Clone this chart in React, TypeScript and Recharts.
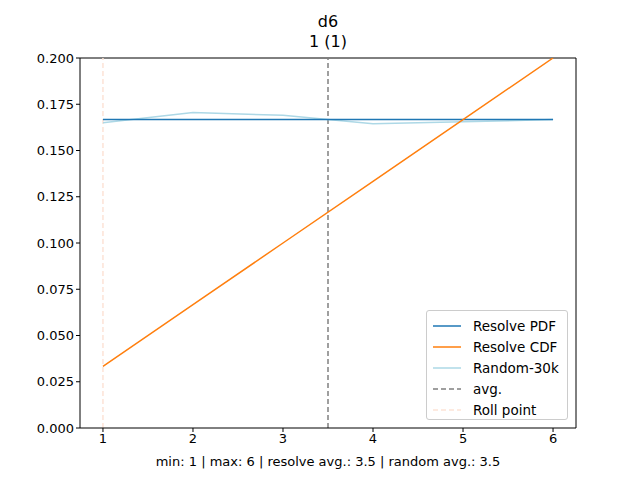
import { LineChart, Line, XAxis, YAxis, ReferenceLine } from 'recharts';

const faces = [1, 2, 3, 4, 5, 6];
const pdf = [0.1667, 0.1667, 0.1667, 0.1667, 0.1667, 0.1667];
const cdf = [0.0333, 0.0667, 0.1, 0.1333, 0.1667, 0.2];
const random30k = [0.165, 0.1705, 0.169, 0.1645, 0.1655, 0.1667];
const yTicks = [0, 0.025, 0.05, 0.075, 0.1, 0.125, 0.15, 0.175, 0.2];

const data = faces.map((x, i) => ({ x, pdf: pdf[i], cdf: cdf[i], rnd: random30k[i] }));

const font = 'DejaVu Sans, sans-serif';

const legendItems = [
  { label: 'Resolve PDF', color: '#1f77b4', dash: undefined },
  { label: 'Resolve CDF', color: '#ff7f0e', dash: undefined },
  { label: 'Random-30k', color: '#add8e6', dash: undefined },
  { label: 'avg.', color: '#808080', dash: '5 3' },
  { label: 'Roll point', color: '#fde3d6', dash: '5 3' },
];

export default function App() {
  return (
    <div style={{ position: 'absolute', left: 0, top: 0, width: 640, height: 480, fontFamily: font, background: '#fff' }}>
      <div style={{ position: 'absolute', top: 12, width: 656, textAlign: 'center', fontSize: 16, lineHeight: '20px' }}>
        d6<br />1 (1)
      </div>
      <LineChart width={640} height={480} data={data} margin={{ top: 58, right: 64, bottom: 22, left: 20 }}>
        <XAxis
          dataKey="x"
          type="number"
          domain={[0.745, 6.255]}
          ticks={faces}
          height={30}
          stroke="#000"
          tick={{ fill: '#000', fontSize: 13, fontFamily: font }}
          tickSize={4}
        />
        <YAxis
          type="number"
          domain={[0, 0.2]}
          ticks={yTicks}
          width={60}
          stroke="#000"
          tickFormatter={(v: number) => v.toFixed(3)}
          tick={{ fill: '#000', fontSize: 13, fontFamily: font }}
          tickSize={4}
          allowDataOverflow
        />
        <ReferenceLine y={0.2} stroke="#000" />
        <ReferenceLine x={6.255} stroke="#000" />
        <ReferenceLine x={1} stroke="#fde3d6" strokeDasharray="5 3" strokeWidth={1.5} />
        <ReferenceLine x={3.5} stroke="#808080" strokeDasharray="5 3" strokeWidth={1.5} />
        <Line dataKey="rnd" stroke="#add8e6" strokeWidth={1.5} dot={false} isAnimationActive={false} />
        <Line dataKey="pdf" stroke="#1f77b4" strokeWidth={1.5} dot={false} isAnimationActive={false} />
        <Line dataKey="cdf" stroke="#ff7f0e" strokeWidth={1.5} dot={false} isAnimationActive={false} />
      </LineChart>
      <div style={{ position: 'absolute', top: 454, width: 656, textAlign: 'center', fontSize: 13 }}>
        min: 1 | max: 6 | resolve avg.: 3.5 | random avg.: 3.5
      </div>
      <div style={{ position: 'absolute', left: 426, top: 310, width: 142, height: 110, border: '1px solid #ccc', borderRadius: 3, background: 'rgba(255,255,255,0.8)', padding: '4px 0', boxSizing: 'border-box' }}>
        {legendItems.map((it) => (
          <div key={it.label} style={{ display: 'flex', alignItems: 'center', height: 21, fontSize: 13.5 }}>
            <svg width={40} height={10} style={{ marginLeft: 6 }}>
              <line x1={0} y1={5} x2={28} y2={5} stroke={it.color} strokeWidth={1.5} strokeDasharray={it.dash} />
            </svg>
            <span>{it.label}</span>
          </div>
        ))}
      </div>
    </div>
  );
}
